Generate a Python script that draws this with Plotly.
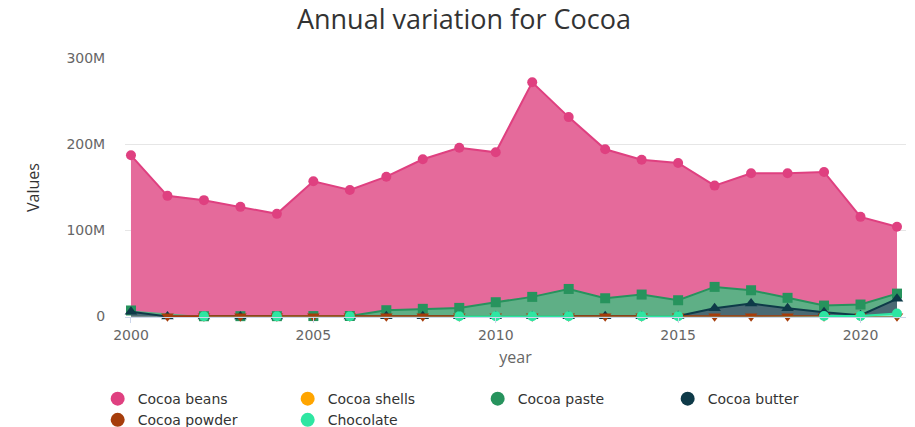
import plotly.graph_objects as go

# Yearly values (tonnes-equivalent units), one list per product
years = list(range(2000, 2022))

cocoa_beans = [187.3e6, 140.2e6, 135.2e6, 127.4e6, 119.3e6, 157.2e6, 147.1e6, 162.5e6,
               182.7e6, 196.1e6, 190.8e6, 272.2e6, 231.7e6, 194.3e6, 182.2e6, 178.4e6,
               152.1e6, 166.5e6, 166.5e6, 168.0e6, 115.8e6, 104.2e6]
cocoa_shells = [None] * 22
cocoa_paste = [7.0e6, None, 0.3e6, 0.4e6, 0.4e6, 0.5e6, 0.6e6, 7.3e6,
               8.9e6, 10.0e6, 16.6e6, 22.8e6, 32.0e6, 21.2e6, 25.5e6, 18.9e6,
               34.4e6, 30.5e6, 21.7e6, 12.7e6, 13.9e6, 26.6e6]
cocoa_butter = [5.5e6, 0.1e6, 0.1e6, 0.1e6, 0.1e6, None, 0.1e6, 0.2e6,
                0.2e6, 0.2e6, 0.3e6, 0.3e6, 0.3e6, 0.3e6, 0.4e6, 0.5e6,
                9.5e6, 15.0e6, 9.5e6, 5.0e6, 1.5e6, 20.5e6]
cocoa_powder = [None, 0.3e6, 0.3e6, 0.3e6, 0.3e6, 0.3e6, 0.3e6, 0.3e6,
                0.3e6, 0.3e6, 0.3e6, 0.3e6, 0.3e6, 0.3e6, 0.3e6, 0.3e6,
                0.3e6, 0.3e6, 0.3e6, 0.3e6, 0.3e6, 0.3e6]
chocolate = [None, None, 0.3e6, None, 0.3e6, None, 0.3e6, None,
             None, 0.3e6, 0.3e6, 0.3e6, 0.3e6, None, 0.3e6, 0.3e6,
             None, None, None, 0.5e6, 0.5e6, 3.5e6]

series = [
    ("Cocoa beans", cocoa_beans, "#DF4080", "rgb(229,106,155)", "circle", 10),
    ("Cocoa shells", cocoa_shells, "#FFA500", "rgb(255,200,110)", "circle", 10),
    ("Cocoa paste", cocoa_paste, "#27935D", "rgb(95,175,134)", "square", 10),
    ("Cocoa butter", cocoa_butter, "#0E3A48", "rgb(74,106,116)", "triangle-up", 11),
    ("Cocoa powder", cocoa_powder, "#A63D0B", "rgb(190,120,90)", "triangle-down", 11),
    ("Chocolate", chocolate, "#2EE6A2", "rgb(123,237,193)", "circle", 10),
]

fig = go.Figure()

for name, vals, col, fcol, sym, size in series:
    fig.add_trace(go.Scatter(
        x=years, y=vals, name=name, legendgroup=name, showlegend=False,
        mode="lines+markers", fill="tozeroy", fillcolor=fcol,
        line=dict(color=col, width=2),
        marker=dict(color=col, symbol=sym, size=size),
        cliponaxis=False, connectgaps=False,
    ))

# Legend entries drawn as plain round markers
for name, vals, col, fcol, sym, size in series:
    fig.add_trace(go.Scatter(
        x=[None], y=[None], name=name, legendgroup=name, mode="markers",
        marker=dict(color=col, symbol="circle", size=14),
    ))

fig.update_layout(
    width=915, height=427,
    margin=dict(l=125, r=9, t=58, b=110, autoexpand=False),
    paper_bgcolor="white", plot_bgcolor="white",
    title=dict(text="Annual variation for Cocoa", x=0.507, xref="container",
               y=0.955, yanchor="middle",
               font=dict(family="Open Sans", size=27, color="#333333")),
    xaxis=dict(
        range=[1999.836, 2021.247], tickmode="linear", tick0=2000, dtick=5,
        showgrid=False, zeroline=False,
        showline=True, linecolor="#ccd6eb", linewidth=1,
        ticks="outside", ticklen=5, tickcolor="#ccd6eb",
        tickfont=dict(family="DejaVu Sans", size=14, color="#666666"),
        title=dict(text="year", standoff=10,
                   font=dict(family="Open Sans", size=16, color="#666666")),
    ),
    yaxis=dict(
        range=[-0.58e6, 300.4e6], tickvals=[0, 100e6, 200e6, 300e6],
        tickformat="~s", showgrid=True, gridcolor="#e6e6e6", gridwidth=1,
        zeroline=False, showline=False,
        ticks="outside", ticklen=16, tickcolor="rgba(0,0,0,0)",
        tickfont=dict(family="DejaVu Sans", size=14, color="#666666"),
        title=dict(text="Values", standoff=22,
                   font=dict(family="Open Sans", size=16, color="#333333")),
    ),
    legend=dict(
        orientation="h", x=-0.035, xanchor="left",
        y=-0.255, yanchor="top",
        entrywidth=145, entrywidthmode="pixels",
        font=dict(family="DejaVu Sans", size=14, color="#333333"),
        tracegroupgap=0, bgcolor="rgba(0,0,0,0)",
    ),
)

fig.write_html("out.html")
